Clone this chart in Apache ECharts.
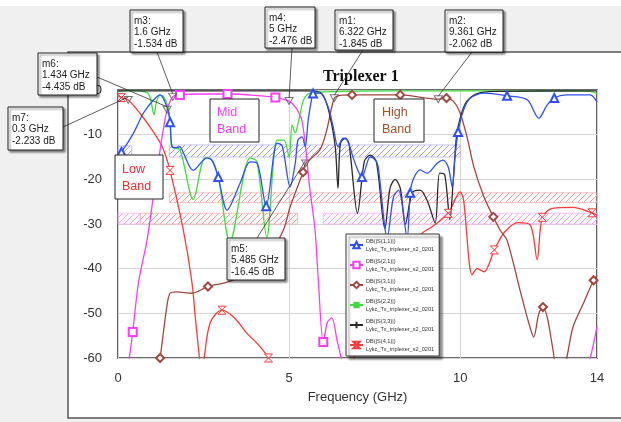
<!DOCTYPE html>
<html>
<head>
<meta charset="utf-8">
<script src="https://cdn.jsdelivr.net/npm/echarts@6/dist/echarts.min.js"></script>
<style>
html,body{margin:0;padding:0;background:#f0f0f0}
#main{width:621px;height:422px}
</style>
</head>
<body>
<div id="main"></div>
<script>
// values: [GHz, dB]
const xTicks = [0, 5, 10, 14];
const docName = 'Lykc_Tx_triplexer_s2_0201';

const s11 = [[0,-14.6],[0.1,-13.9],[0.45,-9.7],[0.74,-5.2],[1.03,-2.3],[1.23,-1.1],[1.43,-3.8],[1.52,-7.2],[1.58,-12.7],[1.7,-12.9],[1.81,-12.7],[1.9,-13.9],[2.2,-18],[2.6,-15.2],[2.75,-15.8],[2.93,-19.5],[3.19,-26.9],[3.57,-20.8],[3.86,-16.1],[4.06,-16.3],[4.33,-26],[4.65,-11.9],[4.8,-12.5],[5.03,-21.7],[5.18,-16.4],[5.26,-11.2],[5.38,-10.5],[5.47,-12.7],[5.56,-6.7],[5.67,-1.5],[5.7,-0.8],[5.9,-0.7],[6.14,-3.8],[6.29,-8.3],[6.43,-12.7],[6.58,-10.8],[6.7,-11.2],[6.93,-16.4],[7.13,-19.5],[7.37,-15],[7.5,-15.5],[7.6,-17],[7.87,-33],[8.05,-24],[8.2,-22.4],[8.45,-33],[8.54,-23],[8.63,-20],[8.83,-17.9],[9.03,-18.6],[9.33,-16.4],[9.5,-15.7],[9.65,-17.2],[9.77,-21.7],[9.85,-15],[9.94,-9.4],[10.1,-4.5],[10.3,-1.8],[10.7,-0.7],[11.37,-1.3],[11.96,-2.2],[12.3,-6.3],[12.54,-3.4],[12.75,-1.8],[13.1,-1.1],[13.8,-1.1],[14,-2.7]];
const s11Marks = [0.1,1.52,2.93,4.33,5.7,7.13,8.54,9.94,11.37,12.75];

const s21 = [[0,-75],[0.33,-60],[0.43,-54.2],[0.6,-43],[0.85,-33.6],[1.03,-24],[1.23,-13.4],[1.32,-9],[1.434,-4.435],[1.6,-1.534],[1.81,-1.1],[2.5,-0.9],[3.2,-0.9],[4.0,-1.2],[4.6,-1.7],[5.0,-2.476],[5.2,-4],[5.37,-6.7],[5.5,-14],[5.6,-21.7],[5.76,-31.4],[5.85,-42],[6.0,-56.4],[6.12,-52],[6.25,-51],[6.4,-56],[6.55,-61],[7,-80],[13,-80],[13.8,-60],[14,-53]];
const s21Marks = [0.43,1.81,3.2,4.6,6.0];

const s31 = [[0,-75],[1.1,-65],[1.23,-60],[1.4,-50],[1.52,-45.5],[1.72,-45.2],[2.16,-45.5],[2.63,-44],[3.19,-43],[3.8,-41],[4.4,-37],[4.83,-31.4],[5.03,-26.2],[5.32,-20.2],[5.41,-18.4],[5.485,-16.45],[5.9,-13.4],[6.1,-9],[6.322,-1.845],[6.5,-1.2],[6.84,-1.1],[8.25,-1.1],[9.361,-2.062],[9.6,-1.8],[9.8,-2.5],[10.0,-5.2],[10.2,-10.5],[10.4,-17.2],[10.7,-24],[10.97,-28.4],[11.17,-31.4],[11.37,-33.6],[11.75,-44.8],[12.0,-52],[12.15,-55.3],[12.3,-50],[12.42,-48.6],[12.55,-51],[12.7,-57.5],[12.83,-62],[13.0,-62],[13.3,-53],[13.6,-47.8],[13.9,-42.6],[14,-41.5]];
const s31Marks = [1.23,2.63,5.41,6.84,8.25,9.6,10.97,12.42,13.9];

const s22 = [[0,-0.3],[0.4,-0.1],[0.85,-0.6],[0.95,-2],[1.05,-5.5],[1.13,-2.5],[1.22,-1.2],[1.32,-1.4],[1.45,-3.5],[1.52,-6.7],[1.58,-12.7],[1.81,-13.4],[2.2,-24.5],[2.54,-15.2],[2.7,-15.3],[2.93,-19.5],[3.27,-34],[3.86,-15.2],[4.06,-16],[4.35,-33],[4.65,-11.2],[4.85,-11.2],[5.0,-15],[5.09,-7.8],[5.18,-9.6],[5.26,-7.6],[5.41,-2.5],[5.55,-0.9],[5.7,-0.6],[6.0,-0.4],[8,-0.2],[10,-0.2],[13,-0.2],[13.8,-0.3],[14,-0.8]];

const s33 = [[0,-0.2],[5.5,-0.2],[5.9,-0.5],[6.05,-2],[6.2,-6],[6.35,-12.7],[6.43,-22],[6.5,-12],[6.64,-10.8],[6.75,-12],[7.0,-27.6],[7.2,-16],[7.37,-14.6],[7.55,-16],[7.8,-31],[7.95,-22],[8.1,-20],[8.25,-22],[8.4,-30],[8.6,-23],[8.83,-22.4],[9.05,-25],[9.27,-29.8],[9.4,-18.6],[9.55,-19],[9.7,-29],[9.8,-20],[9.9,-10],[10.05,-5],[10.2,-2.5],[10.5,-0.8],[11,-0.3],[14,-0.2]];

const s41 = [[0,-1.3],[0.1,-1.7],[0.3,-2.233],[0.64,-5.2],[1.0,-9],[1.3,-12.8],[1.52,-18],[1.9,-31],[2.16,-43],[2.26,-51],[2.38,-60],[2.45,-66],[2.52,-60],[2.7,-52],[3.04,-49.3],[3.4,-51],[3.77,-54.5],[4.1,-57],[4.4,-60],[4.8,-66],[6.0,-70],[6.9,-60],[7.5,-47],[8.3,-37],[8.9,-32],[9.2,-30.5],[9.65,-27.6],[10.0,-22.8],[10.1,-24.6],[10.35,-41.4],[10.5,-40],[10.7,-40.7],[11.0,-35.8],[11.3,-31.8],[11.7,-29.7],[12.05,-30.2],[12.25,-38],[12.4,-28.5],[12.7,-26.5],[13.3,-26.3],[13.85,-27.5],[14,-28]];
const s41Marks = [0.1,1.52,3.04,4.4,9.65,11.0,12.4,13.85];

// spec masks: [f0, f1, top dB, bottom dB]
const blueMask = [[0,0.4,-12.5,-15],[1.5,10,-12.3,-15]];
const redMask = [[1.5,14,-23,-25.2],[0.65,5.25,-27.6,-30]];
const pinkMask = [[0,0.65,-27.6,-30],[6,14,-27.6,-30]];

// trace markers
const markerNames = ['m1','m2','m3','m4','m5','m6','m7'];
const markerFreq = [6.322, 9.361, 1.6, 5, 5.485, 1.434, 0.3];
const markerDb = [-1.845, -2.062, -1.534, -2.476, -16.45, -4.435, -2.233];

const FONT = 'Liberation Sans';

function build(points, marks) {
  return points.map(p => (marks && marks.indexOf(p[0]) >= 0) ? p : { value: p, symbol: 'none' });
}

function hatch(color) {
  const c = document.createElement('canvas');
  c.width = 6; c.height = 6;
  const g = c.getContext('2d');
  g.strokeStyle = color;
  g.lineWidth = 1;
  g.beginPath();
  g.moveTo(0, 6); g.lineTo(6, 0);
  g.moveTo(-1, 1); g.lineTo(1, -1);
  g.moveTo(5, 7); g.lineTo(7, 5);
  g.stroke();
  return { image: c, repeat: 'repeat' };
}

function maskAreas(list, color) {
  const pat = hatch(color);
  return list.map(m => [
    { xAxis: m[0], yAxis: m[2], itemStyle: { color: pat, borderColor: color, borderWidth: 0.6 } },
    { xAxis: m[1], yAxis: m[3] }
  ]);
}

// empty* symbols take their stroke from itemStyle.color, path symbols from borderColor
function lineSeries(name, data, color, symbol, size, solid) {
  const isPath = symbol.indexOf('path://') === 0 && !solid;
  return {
    name: name, type: 'line', data: data, symbol: symbol, symbolSize: size || 8,
    showSymbol: true, smooth: 0.3, clip: true,
    lineStyle: { color: color, width: 1.3 },
    itemStyle: isPath ? { color: '#fff', borderColor: color, borderWidth: 1 } : { color: color, borderWidth: 0 },
    emphasis: { disabled: true }, z: 3
  };
}

const chart = echarts.init(document.getElementById('main'));

const option = {
  animation: false,
  backgroundColor: '#f0f0f0',
  title: {
    text: 'Triplexer 1', left: 318, top: 64,
    textStyle: { fontFamily: 'Liberation Serif', fontWeight: 'bold', fontSize: 16, color: '#111' }
  },
  grid: { left: 118, right: 24, top: 90, bottom: 64, show: true, backgroundColor: '#fff', borderColor: '#3a3a3a', borderWidth: 1.6 },
  xAxis: {
    type: 'value', min: 0, max: 14, interval: 5,
    name: 'Frequency (GHz)', nameLocation: 'middle', nameGap: 33,
    nameTextStyle: { fontFamily: FONT, fontSize: 13, color: '#333' },
    axisLine: { show: false }, axisTick: { show: false },
    axisLabel: { customValues: xTicks, fontFamily: FONT, fontSize: 13, color: '#333', margin: 14 },
    splitLine: { lineStyle: { color: '#d6d6d6' } }
  },
  yAxis: {
    type: 'value', min: -60, max: 0, interval: 10,
    axisLine: { show: false }, axisTick: { show: false },
    axisLabel: { fontFamily: FONT, fontSize: 13, color: '#333', margin: 16 },
    splitLine: { lineStyle: { color: '#d6d6d6' } }
  },
  legend: {
    orient: 'vertical', left: 346, top: 234,
    itemWidth: 13, itemHeight: 8, itemGap: 4,
    padding: [3, 5, 3, 3],
    backgroundColor: '#fff', borderColor: '#333', borderWidth: 1,
    shadowBlur: 2, shadowOffsetX: 3, shadowOffsetY: 3, shadowColor: 'rgba(0,0,0,0.45)',
    data: ['DB(|S(1,1)|)', 'DB(|S(2,1)|)', 'DB(|S(3,1)|)', 'DB(|S(2,2)|)', 'DB(|S(3,3)|)', 'DB(|S(4,1)|)'],
    formatter: n => n + '\n' + docName,
    textStyle: { fontFamily: FONT, fontSize: 5.6, lineHeight: 8, color: '#333', padding: [0, 0, 0, -2] },
    selectedMode: false
  },
  series: [
    {
      name: 'masks', type: 'line', data: [], silent: true, z: 1,
      markArea: {
        silent: true,
        data: [].concat(maskAreas(blueMask, '#a0a0ff'), maskAreas(redMask, '#ff9c9c'), maskAreas(pinkMask, '#ff9cff'))
      }
    },
    lineSeries('DB(|S(4,1)|)', build(s41, s41Marks), '#ff3a3a', 'path://M0,0L10,0L0,10L10,10Z', 8),
    lineSeries('DB(|S(3,1)|)', build(s31, s31Marks), '#a2473f', 'emptyDiamond', 8),
    lineSeries('DB(|S(2,1)|)', build(s21, s21Marks), '#ff3cff', 'emptyRect', 8),
    lineSeries('DB(|S(2,2)|)', build(s22, []), '#3fdc3f', 'path://M0,4.4L10,4.4L10,5.6L0,5.6Z', 8, true),
    lineSeries('DB(|S(3,3)|)', build(s33, []), '#2a2a2a', 'path://M5,0L5,10M0,5L10,5', 8),
    lineSeries('DB(|S(1,1)|)', build(s11, s11Marks), '#3050ff', 'emptyTriangle', 8),
    {
      name: 'markers', type: 'scatter', z: 5, silent: true,
      symbol: 'path://M0,0L10,0L5,9Z', symbolSize: [8, 7],
      itemStyle: { color: 'rgba(255,255,255,0)', borderColor: '#555', borderWidth: 1 },
      data: markerFreq.map((f, i) => [f, markerDb[i]])
    }
  ]
};
chart.setOption(option);

// annotation boxes (layout positions in px)
const markerBoxes = [[335,10,58,40],[445,10,58,42],[130,10,53,42],[265,7,50,41],[227,238,58,42],[38,53,59,42],[8,107,55,43]];
const markerAnchors = [[363,50],[472,52],[157,52],[292,48],[257,238],[97,77],[63,127]];

function textBox(x, y, w, h, text, color, size, lh, pad, shadow) {
  return {
    type: 'group', x: x, y: y, z: 100,
    children: [
      { type: 'rect', z: 100, shape: { x: 0, y: 0, width: w, height: h },
        style: { fill: '#fff', stroke: '#222', lineWidth: 1,
          shadowBlur: shadow ? 2 : 0, shadowOffsetX: shadow ? 2 : 0, shadowOffsetY: shadow ? 2 : 0, shadowColor: 'rgba(0,0,0,0.45)' } },
      { type: 'text', z: 101, x: pad[0], y: pad[1],
        style: { text: text, fill: color, font: size + 'px "' + FONT + '"', lineHeight: lh } }
    ]
  };
}

const graphics = [
  { type: 'rect', z: -10, silent: true, shape: { x: 0, y: 0, width: 621, height: 6 }, style: { fill: '#fff' } },
  { type: 'rect', z: -10, silent: true, shape: { x: 68, y: 52, width: 600, height: 366 }, style: { fill: '#fff', stroke: '#555', lineWidth: 1.5 } }
];

markerNames.forEach((m, i) => {
  const p = chart.convertToPixel({ xAxisIndex: 0, yAxisIndex: 0 }, [markerFreq[i], markerDb[i]]);
  const a = markerAnchors[i];
  graphics.push({ type: 'line', z: 90, silent: true, shape: { x1: a[0], y1: a[1], x2: p[0], y2: p[1] - 3 }, style: { stroke: '#333', lineWidth: 0.8 } });
  const b = markerBoxes[i];
  const txt = m + ':\n' + markerFreq[i] + ' GHz\n' + markerDb[i] + ' dB';
  graphics.push(textBox(b[0], b[1], b[2], b[3], txt, '#222', 10, 11.5, [4, 5], true));
});

graphics.push(textBox(115, 155, 48, 44, 'Low\nBand', '#ff2a2a', 12.5, 17, [7, 6], false));
graphics.push(textBox(210, 99, 49, 43, 'Mid\nBand', '#ff3cff', 12.5, 17, [7, 5], false));
graphics.push(textBox(374, 99, 50, 43, 'High\nBand', '#a0522d', 12.5, 17, [8, 5], false));

chart.setOption({ graphic: graphics });
</script>
</body>
</html>
